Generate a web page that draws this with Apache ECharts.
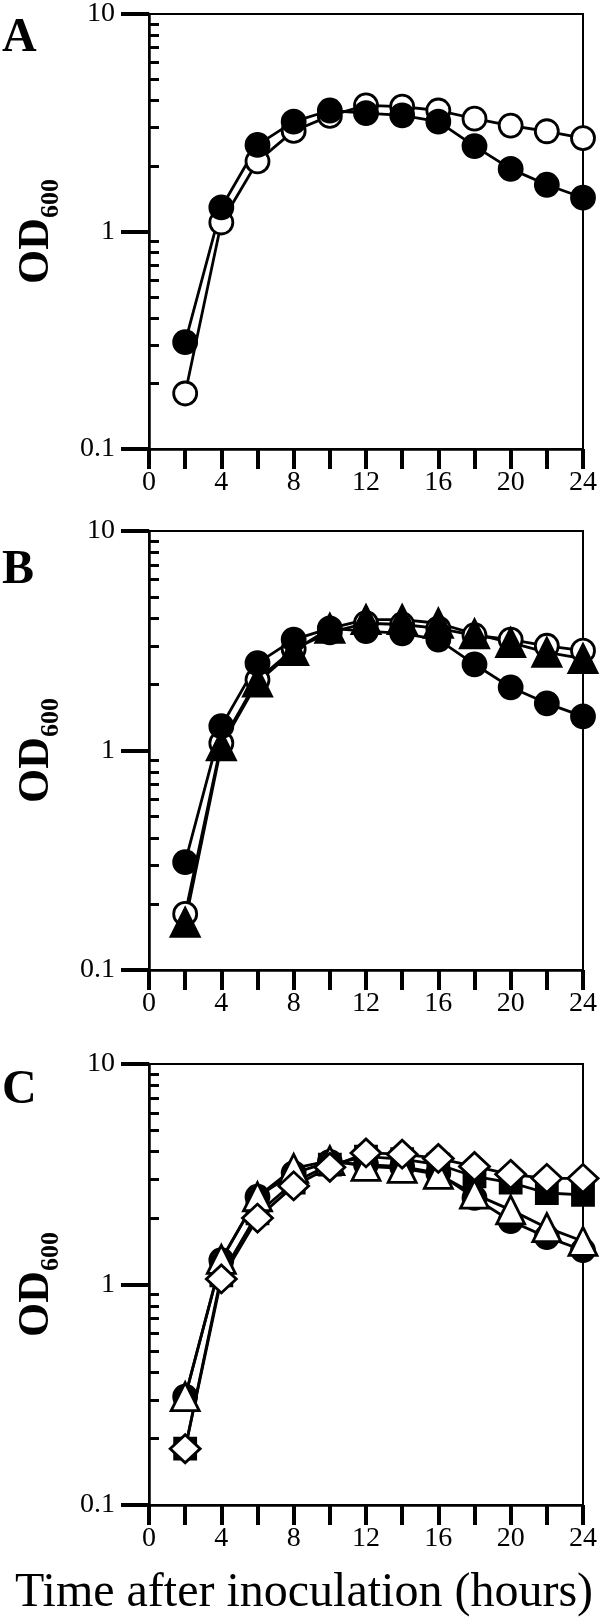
<!DOCTYPE html>
<html>
<head>
<meta charset="utf-8">
<script src="https://cdn.jsdelivr.net/npm/echarts@6/dist/echarts.min.js"></script>
<style>
html,body{margin:0;padding:0;background:#fff;}
#chart{width:600px;height:1619px;}
</style>
</head>
<body>
<div id="chart"></div>
<script>
// ---- data ----
const hours = [2, 4, 6, 8, 10, 12, 14, 16, 18, 20, 22, 24];
const xTickLabels = [0, 4, 8, 12, 16, 20, 24];
const yTickLabels = [0.1, 1, 10];
const yMinorTicks = [0.2, 0.3, 0.4, 0.5, 0.6, 0.7, 0.8, 0.9, 2, 3, 4, 5, 6, 7, 8, 9];
const panelLetters = ['A', 'B', 'C'];

// panel A
const filledCircle = [0.31, 1.29, 2.5, 3.2, 3.6, 3.5, 3.42, 3.2, 2.47, 1.94, 1.64, 1.43];
const openCircleA = [0.18, 1.10, 2.1, 2.9, 3.4, 3.8, 3.75, 3.6, 3.3, 3.07, 2.89, 2.69];
// panel B
const openCircleB = [0.18, 1.08, 2.1, 2.9, 3.45, 3.8, 3.75, 3.6, 3.35, 3.2, 3.0, 2.85];
const filledTriangleB = [0.165, 1.05, 2.05, 2.85, 3.6, 3.95, 3.95, 3.8, 3.4, 3.1, 2.8, 2.62];
// panel C
const filledSquareC = [0.18, 1.1, 2.1, 2.9, 3.5, 3.8, 3.7, 3.5, 3.09, 2.9, 2.6, 2.55];
const openTriangleC = [0.31, 1.3, 2.5, 3.36, 3.65, 3.43, 3.36, 3.16, 2.57, 2.18, 1.81, 1.57];
const openDiamondC = [0.18, 1.06, 2.0, 2.8, 3.4, 3.95, 3.9, 3.73, 3.43, 3.16, 3.03, 3.03];

const FONT = '"Liberation Serif", "DejaVu Serif", serif';
const grids = [
  {left: 149, right: 16, top: 10, height: 439},
  {left: 149, right: 16, top: 531, height: 439},
  {left: 149, right: 16, top: 1064, height: 441}
];

function pairs(arr) { return hours.map((h, i) => [h, arr[i]]); }

const xAxes = [], yAxes = [];
grids.forEach((g, gi) => {
  xAxes.push({
    gridIndex: gi, type: 'value', min: 0, max: 24, interval: 2,
    axisLine: {show: true, lineStyle: {color: '#000', width: 2.5}},
    axisTick: {show: true, inside: false, length: 20, lineStyle: {color: '#000', width: 4}},
    axisLabel: {color: '#000', fontFamily: FONT, fontSize: 28, margin: 20,
      formatter: v => (xTickLabels.indexOf(v) >= 0 ? String(v) : '')},
    splitLine: {show: false}
  });
  yAxes.push({
    gridIndex: gi, type: 'log', logBase: 10, min: 0.1, max: 10, position: 'left',
    axisLine: {show: true, lineStyle: {color: '#000', width: 2.5}},
    axisTick: {show: true, inside: false, length: 28, lineStyle: {color: '#000', width: 4},
      customValues: yTickLabels},
    axisLabel: {color: '#000', fontFamily: FONT, fontSize: 28, margin: 34,
      customValues: yTickLabels,
      formatter: v => (v < 0.5 ? '0.1' : (v < 5 ? '1' : '10'))},
    splitLine: {show: false},
    name: '{a|OD}{b|600}', nameLocation: 'middle', nameRotate: 90, nameGap: 80,
    nameTextStyle: {
      rich: {
        a: {fontFamily: FONT, fontWeight: 'bold', fontSize: 44, lineHeight: 44, color: '#000', padding: [0, 0, 10, 0]},
        b: {fontFamily: FONT, fontWeight: 'bold', fontSize: 26, lineHeight: 26, color: '#000', verticalAlign: 'bottom'}
      }
    }
  });
  yAxes.push({
    gridIndex: gi, type: 'log', logBase: 10, min: 0.1, max: 10, position: 'left', offset: 0,
    axisLine: {show: false},
    axisTick: {show: true, inside: true, length: 10, lineStyle: {color: '#000', width: 3},
      customValues: yMinorTicks},
    axisLabel: {show: false},
    splitLine: {show: false}
  });
});

function lineSeries(gi, arr, symbol, size, filled) {
  return {
    type: 'line', xAxisIndex: gi, yAxisIndex: gi * 2,
    data: pairs(arr), symbol: symbol, symbolSize: size, showAllSymbol: true,
    lineStyle: {color: '#000', width: 2.8},
    itemStyle: {color: filled ? '#000' : '#fff', borderColor: '#000', borderWidth: 2.8, opacity: 1},
    emphasis: {disabled: true}, animation: false
  };
}

const series = [
  lineSeries(0, openCircleA, 'circle', 23, false),
  lineSeries(0, filledCircle, 'circle', 23, true),
  lineSeries(1, openCircleB, 'circle', 23, false),
  lineSeries(1, filledCircle, 'circle', 23, true),
  lineSeries(1, filledTriangleB, 'triangle', 28, true),
  lineSeries(2, filledCircle, 'circle', 23, true),
  lineSeries(2, filledSquareC, 'rect', 21, true),
  lineSeries(2, openTriangleC, 'triangle', 28, false),
  lineSeries(2, openDiamondC, 'diamond', [30, 28], false)
];

const letterTops = [15, 547, 1067];
const graphic = panelLetters.map((t, i) => ({
  type: 'text', left: 2, top: letterTops[i],
  style: {text: t, font: 'bold 48px ' + FONT, fill: '#000'}
}));
graphic.push({
  type: 'text', x: 304, y: 1593,
  style: {text: 'Time after inoculation (hours)', font: '48px ' + FONT, fill: '#000',
    textAlign: 'center', textVerticalAlign: 'middle'}
});

const chart = echarts.init(document.getElementById('chart'), null, {renderer: 'canvas'});
chart.setOption({
  animation: false,
  backgroundColor: '#fff',
  grid: grids.map(g => Object.assign({show: true, borderColor: '#000', borderWidth: 2, backgroundColor: 'transparent'}, g)),
  xAxis: xAxes,
  yAxis: yAxes,
  series: series,
  graphic: graphic
});
</script>
</body>
</html>
